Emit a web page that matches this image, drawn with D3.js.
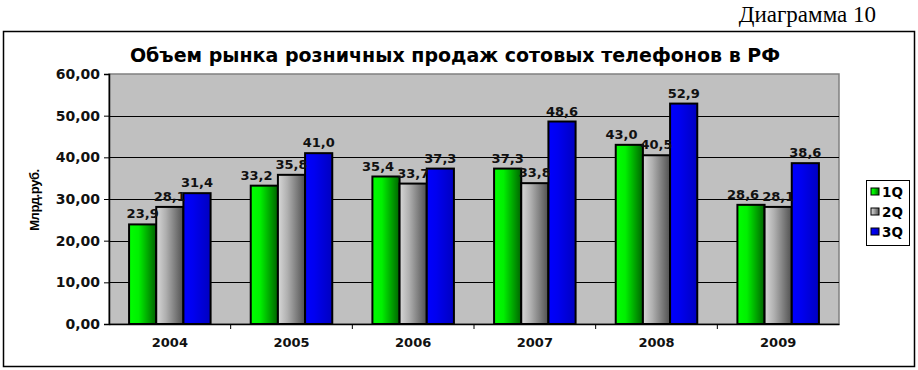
<!DOCTYPE html>
<html><head><meta charset="utf-8">
<script src="https://cdn.jsdelivr.net/npm/d3@7"></script>
<style>body{margin:0;background:#fff}svg{display:block}</style>
</head><body>
<svg id="c" width="918" height="370"></svg>
<script>
const categories = ["2004","2005","2006","2007","2008","2009"];
const seriesNames = ["1Q","2Q","3Q"];
const q1 = [23.9, 33.2, 35.4, 37.3, 43.0, 28.6];
const q2 = [28.1, 35.8, 33.7, 33.8, 40.5, 28.1];
const q3 = [31.4, 41.0, 37.3, 48.6, 52.9, 38.6];
const yTicks = [0,10,20,30,40,50,60];
const series = [q1,q2,q3];

const FONT = "DejaVu Sans, Verdana, sans-serif";
const svg = d3.select("#c");
const defs = svg.append("defs");
const grads = [["#00ff00","#00f000","#006400"],["#d8d8d8","#b0b0b0","#505050"],["#0000ff","#0000f0","#0000c0"]];
grads.forEach((g,i)=>{
  const lg = defs.append("linearGradient").attr("id","g"+i).attr("x1","0").attr("x2","1").attr("y1","0").attr("y2","0");
  lg.append("stop").attr("offset","0").attr("stop-color",g[0]);
  lg.append("stop").attr("offset","0.35").attr("stop-color",g[1]);
  lg.append("stop").attr("offset","1").attr("stop-color",g[2]);
});

// header
svg.append("text").attr("x",876).attr("y",22).attr("text-anchor","end")
  .attr("font-family","Liberation Serif, Times New Roman, serif").attr("font-size",23).text("Диаграмма 10");
// frame
svg.append("rect").attr("x",3.5).attr("y",31.5).attr("width",911).attr("height",335).attr("fill","#fff").attr("stroke","#000").attr("stroke-width",1.5);
svg.append("text").attr("x",455).attr("y",62).attr("text-anchor","middle")
  .attr("font-family",FONT).attr("font-weight","bold").attr("font-size",19).text("Объем рынка розничных продаж сотовых телефонов в РФ");

const L=109, R=839, T=74, B=324;
const x = d3.scaleBand().domain(categories).range([L,R]).paddingInner(0.33).paddingOuter(0.165);
const xs = d3.scaleBand().domain(seriesNames).range([0,x.bandwidth()]);
const y = d3.scaleLinear().domain([0,60]).range([B,T]);

svg.append("rect").attr("x",L).attr("y",T).attr("width",R-L).attr("height",B-T).attr("fill","#c0c0c0").attr("stroke","#808080").attr("stroke-width",1.5);
// gridlines
svg.append("g").selectAll("line").data(yTicks.filter(d=>d>0&&d<60)).join("line")
  .attr("x1",L).attr("x2",R).attr("y1",d=>Math.round(y(d))+0.5).attr("y2",d=>Math.round(y(d))+0.5).attr("stroke","#000");

// bars
const gG = svg.append("g");
categories.forEach((c,ci)=>{
  series.forEach((s,si)=>{
    const bx = x(c)+xs(seriesNames[si]);
    gG.append("rect").attr("x",bx).attr("y",y(s[ci])).attr("width",xs.bandwidth()).attr("height",B-y(s[ci]))
      .attr("fill","url(#g"+si+")").attr("stroke","#000").attr("stroke-width",2);
  });
});
// labels with simple collision nudging (move left label leftwards)
categories.forEach((c,ci)=>{
  const labs = series.map((s,si)=>{
    const bx = x(c)+xs(seriesNames[si])+xs.bandwidth()/2;
    return svg.append("text").attr("x",bx).attr("y",y(s[ci])-6).attr("text-anchor","middle")
      .attr("font-family",FONT).attr("font-weight","bold").attr("font-size",13).attr("fill","#111")
      .text(d3.format(".1f")(s[ci]).replace(".",","));
  });
  for (let k=labs.length-2;k>=0;k--){
    const a=labs[k].node().getBBox(), b=labs[k+1].node().getBBox();
    const vOver = a.y < b.y+b.height-3 && b.y < a.y+a.height-3;
    const hOver = a.x+a.width - b.x;
    if (vOver && hOver > -2){
      labs[k].attr("x", +labs[k].attr("x") - (hOver+3));
    }
  }
});

// axes
const ya = svg.append("g").attr("transform",`translate(${L},0)`)
  .call(d3.axisLeft(y).tickValues(yTicks).tickSize(5).tickFormat(d=>d3.format(".2f")(d).replace(".",",")));
ya.select(".domain").attr("stroke","#000").attr("stroke-width",1.5);
ya.selectAll("line").attr("stroke","#000");
ya.selectAll("text").attr("font-family",FONT).attr("font-weight","bold").attr("font-size",14).attr("fill","#111").attr("dx",-1);

const xa = svg.append("g").attr("transform",`translate(0,${B})`)
  .call(d3.axisBottom(x).tickSize(0).tickPadding(14));
xa.select(".domain").attr("stroke","#000").attr("stroke-width",1.5);
xa.selectAll("text").attr("font-family",FONT).attr("font-weight","bold").attr("font-size",13).attr("fill","#111");
// ticks between categories
svg.append("g").selectAll("line").data(categories.slice(1)).join("line")
  .attr("x1",d=>x(d)-x.step()*x.paddingInner()/2).attr("x2",d=>x(d)-x.step()*x.paddingInner()/2)
  .attr("y1",B).attr("y2",B+5).attr("stroke","#000");

svg.append("text").attr("transform","translate(39,200) rotate(-90)").attr("text-anchor","middle")
  .attr("font-family","Liberation Sans, Arial, sans-serif").attr("font-size",13).attr("font-weight","bold").attr("letter-spacing",-0.4).text("Млрд.руб.");

// legend
const lg = svg.append("g");
lg.append("rect").attr("x",866.5).attr("y",180.5).attr("width",43).attr("height",65).attr("fill","#fff").attr("stroke","#000");
seriesNames.forEach((n,i)=>{
  const yy = 192+i*20;
  lg.append("rect").attr("x",871).attr("y",yy-4).attr("width",8).attr("height",7).attr("fill","url(#g"+i+")").attr("stroke","#000");
  lg.append("text").attr("x",882).attr("y",yy+5).attr("font-family",FONT).attr("font-weight","bold").attr("font-size",13.5).text(n);
});
</script>
</body></html>
